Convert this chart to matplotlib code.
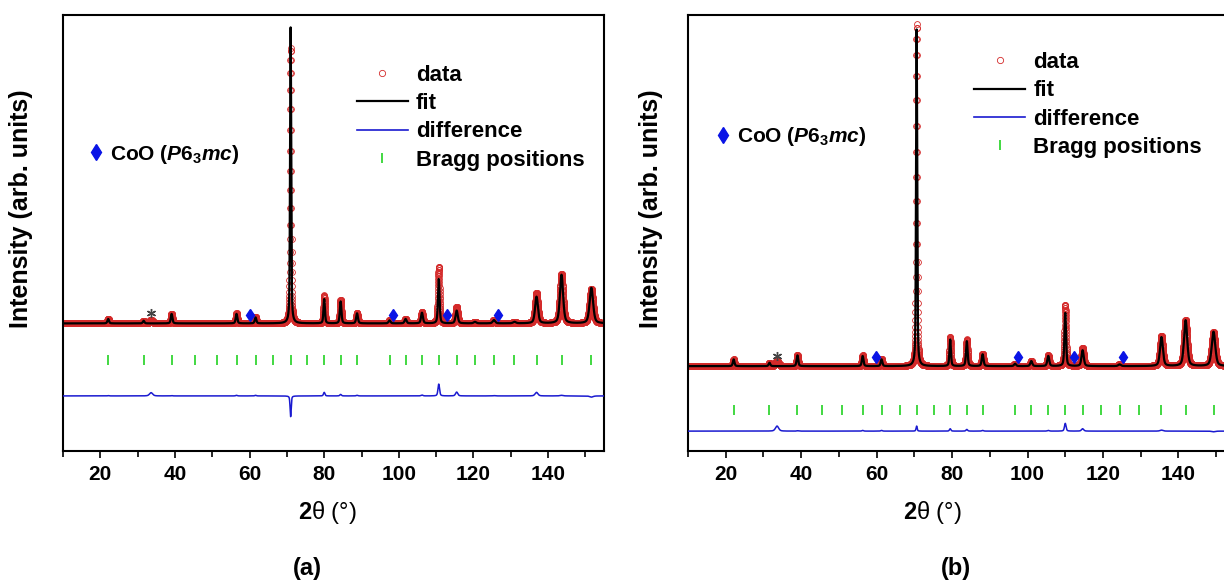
import numpy as np
import matplotlib
matplotlib.use('Agg')
import matplotlib.pyplot as plt
from matplotlib.lines import Line2D

plt.rcParams['font.family'] = ['Liberation Sans', 'DejaVu Sans']
plt.rcParams['font.weight'] = 'bold'
plt.rcParams['mathtext.fontset'] = 'custom'
plt.rcParams['mathtext.rm'] = 'Liberation Sans:bold'
plt.rcParams['mathtext.it'] = 'Liberation Sans:italic:bold'
plt.rcParams['mathtext.bf'] = 'Liberation Sans:bold'

# panel (a): peak positions (deg), fitted / observed heights, widths (deg)
pos_a = [22.1, 31.6, 39.1, 56.5, 61.6, 71.0, 80.0, 84.4, 88.8, 97.5, 101.8,
         106.2, 110.7, 115.5, 120.4, 125.5, 131.0, 136.9, 143.6, 151.6]
fit_a = [1.5, 0.9, 3.2, 3.2, 2.0, 100, 8.2, 7.4, 3.4, 1.0, 1.5,
         3.6, 15.0, 4.3, 0.5, 1.1, 0.5, 9.0, 16.4, 12.0]
obs_a = [1.6, 0.9, 3.3, 3.4, 2.2, 93, 9.4, 7.9, 3.6, 1.0, 1.5,
         3.9, 19.0, 5.6, 0.5, 1.2, 0.5, 10.2, 16.6, 11.6]
fwhm_a = [0.5, 0.5, 0.5, 0.5, 0.5, 0.35, 0.45, 0.5, 0.55, 0.6, 0.6,
          0.6, 0.5, 0.7, 0.8, 0.8, 0.9, 0.9, 1.0, 1.1]
bragg_a = [22.1, 31.6, 39.1, 45.4, 51.2, 56.5, 61.6, 66.4, 71.0, 75.5, 80.0, 84.4,
           88.8, 97.5, 101.8, 106.2, 110.7, 115.5, 120.4, 125.5, 131.0, 136.9,
           143.6, 151.6]
coo_a = [60.0, 98.4, 113.0, 126.7]
coo_ha = [2.9, 2.9, 2.9, 2.9]
imp_a = [33.6]          # impurity peak (*)
imp_ha = [1.1]
star_a = [33.7]
star_ha = [3.4]

# panel (b)
pos_b = [22.1, 31.6, 39.0, 56.3, 61.3, 70.6, 79.5, 83.9, 88.1, 96.7, 101.0,
         105.5, 110.0, 114.6, 124.4, 135.5, 141.9, 149.3]
fit_b = [2.0, 1.0, 3.2, 3.0, 2.0, 100, 7.9, 7.4, 3.5, 0.7, 1.5,
         3.0, 15.8, 4.7, 0.5, 8.6, 13.6, 10.2]
obs_b = [2.0, 1.0, 3.3, 3.2, 2.2, 101.5, 8.6, 7.9, 3.7, 0.7, 1.5,
         3.2, 18.1, 5.4, 0.5, 8.9, 13.6, 10.0]
fwhm_b = [0.5, 0.5, 0.5, 0.5, 0.5, 0.35, 0.45, 0.5, 0.55, 0.6, 0.6,
          0.6, 0.5, 0.7, 0.8, 0.9, 1.0, 1.1]
bragg_b = [22.1, 31.6, 39.0, 45.4, 50.9, 56.3, 61.3, 66.1, 70.6, 75.1, 79.5, 83.9,
           88.1, 96.7, 101.0, 105.5, 110.0, 114.6, 119.4, 124.4, 129.6, 135.5,
           141.9, 149.3]
coo_b = [59.9, 97.5, 112.2, 125.3]
coo_hb = [2.7, 2.7, 2.7, 2.7]
imp_b = [33.6]
imp_hb = [1.5]
star_b = [33.6]
star_hb = [3.0]

labels = ['data', 'fit', 'difference', 'Bragg positions']
coo_label = r'CoO ($\mathit{P}$6$_3$$\mathit{mc}$)'

red = '#d42a2a'
blue = '#1a1ad0'
green = '#33d633'
dblue = '#0a14e6'

tth = np.arange(10, 155.001, 0.02)


def pv(x, p, h, w):
    g = np.exp(-4 * np.log(2) * ((x - p) / w) ** 2)
    lor = 1 / (1 + 4 * ((x - p) / w) ** 2)
    return h * (0.55 * g + 0.45 * lor)


def pattern(x, pos, hts, wid):
    y = np.zeros_like(x)
    for p, h, w in zip(pos, hts, wid):
        y += pv(x, p, h, w)
    return y


def panel(ax, pos, fit, obs, fwhm, bragg, coo, coo_h, imp, imp_h, star, star_h,
          ylim, bragg_y, diff_y, leg_xy, coo_xy, xlab_x, ylab_x):
    yfit = pattern(tth, pos, fit, fwhm)
    yobs = pattern(tth, pos, obs, fwhm) + pattern(tth, imp, imp_h, [1.0] * len(imp))
    ax.plot(tth, yobs, ls='none', marker='o', mfc='none', mec=red, ms=4.2, mew=0.6, zorder=2)
    ax.plot(tth, yfit, color='k', lw=1.6, zorder=3)
    ax.plot(tth, yobs - yfit + diff_y, color=blue, lw=1.1, zorder=3)
    ax.plot(bragg, [bragg_y] * len(bragg), ls='none', marker='|', color=green, ms=7.5, mew=1.3)
    ax.plot(coo, coo_h, ls='none', marker='d', color=dblue, ms=6, zorder=4)
    ax.plot(star, star_h, ls='none', marker=(6, 2, 0), color='#444444', ms=6.5, mew=1.0, zorder=4)

    ax.set_xlim(10, 155)
    ax.set_ylim(*ylim)
    ax.set_yticks([])
    ax.set_xticks(np.arange(20, 151, 20))
    ax.set_xticks(np.arange(10, 155, 10), minor=True)
    ax.tick_params(axis='x', which='major', length=5, width=1.2, labelsize=15, pad=5)
    ax.tick_params(axis='x', which='minor', length=4, width=1.2)
    for s in ax.spines.values():
        s.set_linewidth(1.5)

    ax.set_xlabel(r'$\mathbf{2}$θ (°)', fontsize=17, fontweight='normal')
    ax.xaxis.set_label_coords(xlab_x, -0.11)
    ax.set_ylabel('Intensity (arb. units)', fontsize=18, fontweight='bold')
    ax.yaxis.set_label_coords(ylab_x, 0.555)

    handles = [Line2D([], [], ls='none', marker='o', mfc='none', mec=red, ms=4.5, mew=0.6),
               Line2D([], [], color='k', lw=1.6),
               Line2D([], [], color=blue, lw=1.2),
               Line2D([], [], ls='none', marker='|', color=green, ms=7.5, mew=1.3)]
    leg = ax.legend(handles, labels, loc='upper left', bbox_to_anchor=leg_xy,
                    frameon=False, fontsize=16, handlelength=2.3, handletextpad=0.36,
                    labelspacing=0.33, borderpad=0, borderaxespad=0)
    ax.add_artist(leg)
    ax.legend([Line2D([], [], ls='none', marker='d', color=dblue, ms=8)], [coo_label],
              loc='center left', bbox_to_anchor=coo_xy, frameon=False, fontsize=15,
              handlelength=0.8, handletextpad=0.27, borderpad=0, borderaxespad=0)


fig = plt.figure(figsize=(12.24, 5.85), dpi=100)
ax1 = fig.add_axes([0.0515, 0.2291, 0.442, 0.7453])
ax2 = fig.add_axes([0.5621, 0.2291, 0.4469, 0.7453])

panel(ax1, pos_a, fit_a, obs_a, fwhm_a, bragg_a, coo_a, coo_ha, imp_a, imp_ha,
      star_a, star_ha, (-43.1, 104.2), -12.4, -24.5, (0.543, 0.886), (0.046, 0.681),
      0.488, -0.055)
panel(ax2, pos_b, fit_b, obs_b, fwhm_b, bragg_b, coo_b, coo_hb, imp_b, imp_hb,
      star_b, star_hb, (-25.2, 104.3), -12.9, -19.3, (0.523, 0.915), (0.049, 0.721),
      0.446, -0.046)

fig.text(0.251, 0.029, '(a)', fontsize=17, ha='center', va='center')
fig.text(0.781, 0.029, '(b)', fontsize=17, ha='center', va='center')

fig.savefig('out.png', dpi=100)
